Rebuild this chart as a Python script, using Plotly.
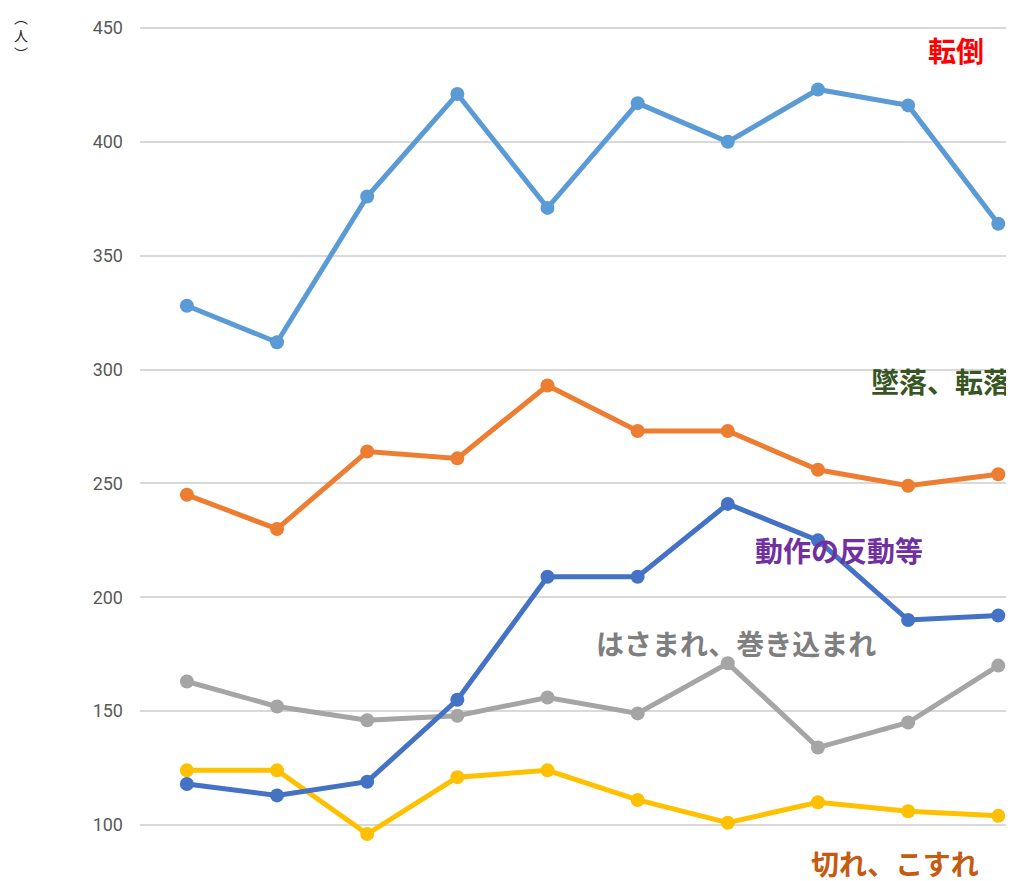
import plotly.graph_objects as go

x_idx = list(range(10))
tentou = [328, 312, 376, 421, 371, 417, 400, 423, 416, 364]
tsuiraku = [245, 230, 264, 261, 293, 273, 273, 256, 249, 254]
dousa = [118, 113, 119, 155, 209, 209, 241, 225, 190, 192]
hasamare = [163, 152, 146, 148, 156, 149, 171, 134, 145, 170]
kire = [124, 124, 96, 121, 124, 111, 101, 110, 106, 104]

series = [
    ("転倒", tentou, "#5B9BD5"),
    ("墜落、転落", tsuiraku, "#ED7D31"),
    ("はさまれ、巻き込まれ", hasamare, "#A5A5A5"),
    ("切れ、こすれ", kire, "#FFC000"),
    ("動作の反動等", dousa, "#4472C4"),
]

fig = go.Figure()
for name, vals, col in series:
    fig.add_trace(go.Scatter(
        x=x_idx, y=vals, mode="lines+markers", name=name,
        line=dict(color=col, width=5),
        marker=dict(color=col, size=14),
        showlegend=False,
    ))

cjk = "Noto Sans CJK JP"
labels = [
    ("転倒", 8.53, 440.5, "#FF0000"),
    ("墜落、転落", 8.36, 295, "#375623"),
    ("動作の反動等", 7.23, 220.8, "#7030A0"),
    ("はさまれ、巻き込まれ", 6.09, 180, "#7F7F7F"),
    ("切れ、こすれ", 7.85, 83.5, "#C55A11"),
]
for t, ax, ay, c in labels:
    fig.add_annotation(x=ax, y=ay, xref="x", yref="y", text="<b>" + t + "</b>",
                       showarrow=False, font=dict(family=cjk, size=28, color=c))

L, R, T, B = 132, 12, 2, 8
W, H = 1014, 881
pw, ph = W - L - R, H - T - B
# vertical unit label (figure-pixel centre 13, 27)
fig.add_annotation(x=(13 - L) / pw, y=1 - (27 - T) / ph, xref="paper", yref="paper",
                   text="︵<br>人<br>︶", showarrow=False, xanchor="center", yanchor="middle",
                   borderpad=0, font=dict(family=cjk, size=14, color="#222222"))

fig.update_layout(
    width=W, height=H,
    margin=dict(l=L, r=R, t=T, b=B),
    paper_bgcolor="white", plot_bgcolor="white",
    xaxis=dict(range=[-0.52, 9.13], showticklabels=False, showgrid=False,
               zeroline=False, showline=False),
    yaxis=dict(range=[75.4, 457.9], tickvals=[100, 150, 200, 250, 300, 350, 400, 450],
               showgrid=True, gridcolor="#D9D9D9", gridwidth=1.5, zeroline=False,
               showline=False, ticklabelstandoff=16,
               tickfont=dict(family="Roboto", size=18, color="#595959")),
)
fig.write_html("out.html")
